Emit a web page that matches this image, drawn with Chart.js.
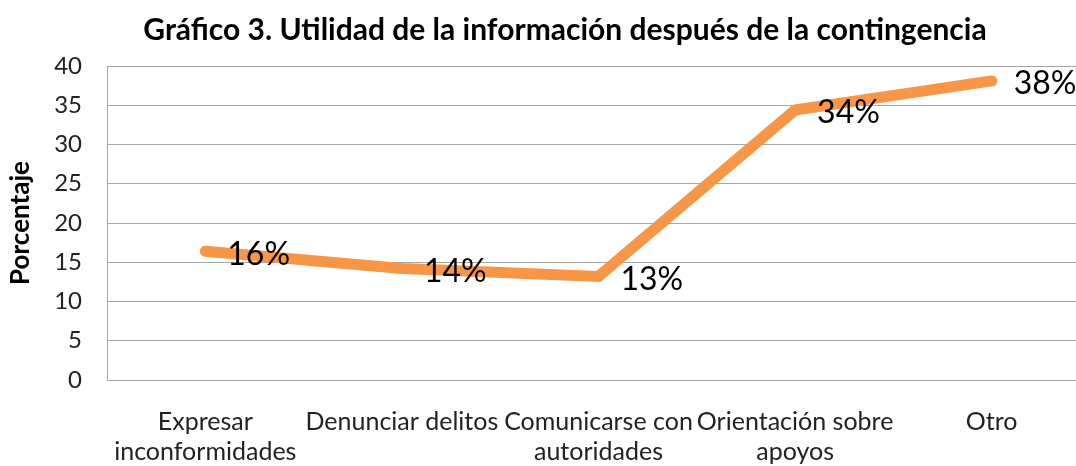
<!DOCTYPE html>
<html lang="es">
<head>
  <meta charset="UTF-8" />
  <title>Gráfico 3</title>
  <script src="https://cdn.jsdelivr.net/npm/chart.js"></script>
  <style>
    html, body { margin: 0; padding: 0; background: #fff; overflow: hidden; }
    .wrap { width: 1130px; height: 466px; }
  </style>
</head>
<body>
  <div class="wrap"><canvas id="chart" width="1130" height="466"></canvas></div>
  <script>
    // values
    const categories = [
      ['Expresar', 'inconformidades'],
      'Denunciar delitos',
      ['Comunicarse con', 'autoridades'],
      ['Orientación sobre', 'apoyos'],
      'Otro'
    ];
    const percentages = [16.4, 14.2, 13.2, 34.4, 38.1];
    const yTicks = [0, 5, 10, 15, 20, 25, 30, 35, 40];

    const FONT = 'Lato, "Open Sans", sans-serif';

    // percentage label to the right of each point
    const valueLabels = {
      id: 'valueLabels',
      afterDatasetsDraw(chart) {
        const ctx = chart.ctx;
        const meta = chart.getDatasetMeta(0);
        ctx.save();
        ctx.font = '32px ' + FONT;
        ctx.fillStyle = '#000';
        ctx.textAlign = 'left';
        ctx.textBaseline = 'middle';
        meta.data.forEach((pt, i) => {
          ctx.fillText(Math.round(percentages[i]) + '%', pt.x + 22, pt.y + 3);
        });
        ctx.restore();
      }
    };

    new Chart(document.getElementById('chart'), {
      type: 'line',
      data: {
        labels: categories,
        datasets: [{
          data: percentages,
          borderColor: '#F79646',
          borderWidth: 11,
          borderCapStyle: 'round',
          borderJoinStyle: 'miter',
          pointRadius: 0,
          tension: 0,
          fill: false
        }]
      },
      options: {
        responsive: false,
        animation: false,
        // left padding 40 centres the title at x=565; the y scale is narrowed to keep the plot at x=107
        layout: { padding: { left: 40, right: 40, top: 0, bottom: 0 } },
        plugins: {
          legend: { display: false },
          tooltip: { enabled: false },
          title: {
            display: true,
            text: 'Gráfico 3. Utilidad de la información después de la contingencia',
            color: '#000',
            font: { family: FONT, size: 30, weight: 'bold', lineHeight: 1.2 },
            padding: { top: 12, bottom: 18 }
          }
        },
        scales: {
          x: {
            offset: true,
            grid: { display: false, drawTicks: false },
            border: { display: false },
            ticks: {
              color: '#222',
              font: { family: FONT, size: 25, lineHeight: 1.2 },
              padding: 27,
              maxRotation: 0,
              autoSkip: false
            },
            afterFit(scale) { scale.height = 86; }
          },
          y: {
            min: 0,
            max: 40,
            afterBuildTicks(scale) { scale.ticks = yTicks.map(v => ({ value: v })); },
            grid: { color: '#a6a6a6', lineWidth: 1, drawTicks: false },
            border: { display: true, color: '#a6a6a6', width: 1 },
            ticks: {
              color: '#222',
              font: { family: FONT, size: 24 },
              padding: 25
            },
            title: {
              display: true,
              text: 'Porcentaje',
              color: '#000',
              font: { family: FONT, size: 26, weight: 'bold', lineHeight: 1.2 },
              padding: { top: -35, bottom: 0 }
            },
            afterFit(scale) { scale.width = 67; }
          }
        }
      },
      plugins: [valueLabels]
    });
  </script>
</body>
</html>
